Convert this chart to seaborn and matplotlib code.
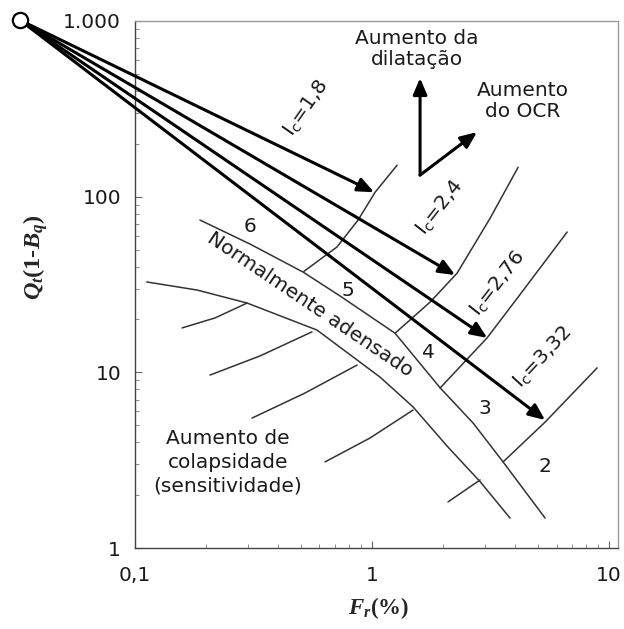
import matplotlib
matplotlib.use("Agg")
import matplotlib.pyplot as plt
import matplotlib.ticker as mticker
import numpy as np
import pandas as pd
import seaborn as sns

# ---------------- data ----------------
origin_x = 0.0327
origin_y = 1012

# thick arrows (Ic directions) end points
arrow_end_x = [1.02, 2.24, 3.06, 5.37]
arrow_end_y = [106, 35.8, 15.7, 5.35]

# normally consolidated band
nc_upper_x = [0.188, 0.306, 0.512, 0.733, 1.25, 1.94, 2.67, 3.57, 5.37]
nc_upper_y = [73.6, 53.7, 37.2, 27.2, 16.7, 8.14, 5.14, 3.09, 1.48]
nc_lower_x = [0.112, 0.183, 0.297, 0.586, 1.08, 1.49, 2.07, 2.86, 3.82]
nc_lower_y = [32.7, 29.4, 24.8, 17.4, 9.40, 6.35, 3.81, 2.38, 1.48]

# Ic boundaries above the band
ic18_x = [1.275, 1.03, 0.873, 0.711, 0.515]
ic18_y = [151, 106, 73.6, 51.7, 37.5]
ic24_x = [4.13, 3.15, 2.284, 1.757, 1.25]
ic24_y = [147, 75.5, 36.7, 25.1, 16.7]
ic276_x = [6.65, 4.13, 3.055, 1.936]
ic276_y = [62.9, 26.8, 15.7, 8.14]
ic332_x = [8.9, 5.37, 3.57]
ic332_y = [10.6, 5.21, 3.09]

# boundaries below the band
low_a_x = [0.158, 0.2176, 0.297]
low_a_y = [17.9, 20.4, 24.8]
low_b_x = [0.2073, 0.3368, 0.558]
low_b_y = [9.65, 12.4, 17.0]
low_c_x = [0.3117, 0.521, 0.8644]
low_c_y = [5.49, 7.62, 11.0]
low_d_x = [0.633, 0.981, 1.489]
low_d_y = [3.09, 4.23, 6.10]
low_e_x = [2.092, 2.855]
low_e_y = [1.83, 2.44]

# direction arrows (dilatancy / OCR)
dir_base = (1.594, 132.7)
dil_tip = (1.594, 473)
ocr_tip = (2.77, 233)

ic_labels = ["1,8", "2,4", "2,76", "3,32"]
zone_labels = ["6", "5", "4", "3", "2"]
x_ticks = [0.1, 1, 10]
x_ticklabels = ["0,1", "1", "10"]
y_ticks = [1, 10, 100, 1000]
y_ticklabels = ["1", "10", "100", "1.000"]

# ---------------- styling ----------------
sns.set_style("ticks")
plt.rcParams["font.family"] = ["DejaVu Sans"]
plt.rcParams["mathtext.fontset"] = "custom"
plt.rcParams["mathtext.rm"] = "Liberation Serif:bold"
plt.rcParams["mathtext.it"] = "Liberation Serif:italic:bold"
plt.rcParams["mathtext.bf"] = "Liberation Serif:bold"
plt.rcParams["mathtext.sf"] = "DejaVu Sans"

W, H = 624, 629
AX_L, AX_R, AX_T, AX_B = 135, 618, 21, 548
XMIN, XMAX, YMIN, YMAX = 0.1, 10.9, 1, 1000

fig = plt.figure(figsize=(W / 100, H / 100), dpi=100)
ax = fig.add_axes([AX_L / W, 1 - AX_B / H, (AX_R - AX_L) / W, (AX_B - AX_T) / H])
ax.set_xscale("log")
ax.set_yscale("log")


def P(px, py):
    """pixel position in the picture -> data coordinates (for text placement)"""
    lx = np.log10(XMIN) + (px - AX_L) / (AX_R - AX_L) * (np.log10(XMAX) - np.log10(XMIN))
    ly = np.log10(YMIN) + (AX_B - py) / (AX_B - AX_T) * (np.log10(YMAX) - np.log10(YMIN))
    return 10 ** lx, 10 ** ly


curves = {
    "nc_upper": (nc_upper_x, nc_upper_y),
    "nc_lower": (nc_lower_x, nc_lower_y),
    "ic18": (ic18_x, ic18_y),
    "ic24": (ic24_x, ic24_y),
    "ic276": (ic276_x, ic276_y),
    "ic332": (ic332_x, ic332_y),
    "la": (low_a_x, low_a_y),
    "lb": (low_b_x, low_b_y),
    "lc": (low_c_x, low_c_y),
    "ld": (low_d_x, low_d_y),
    "le": (low_e_x, low_e_y),
}
rows = []
for name, (xs, ys) in curves.items():
    for i, (xv, yv) in enumerate(zip(xs, ys)):
        rows.append({"curve": name, "x": xv, "y": yv, "order": i})
df = pd.DataFrame(rows)
sns.lineplot(data=df, x="x", y="y", units="curve", estimator=None, sort=False,
             color="#333333", lw=1.1, ax=ax, legend=False)

aprops = dict(arrowstyle="-|>,head_length=0.7,head_width=0.3", lw=2.2, color="black",
              shrinkA=0, shrinkB=0, mutation_scale=14)
for xe, ye in zip(arrow_end_x, arrow_end_y):
    ax.annotate("", xy=(xe, ye), xytext=(origin_x, origin_y), arrowprops=aprops,
                annotation_clip=False, zorder=4)
ax.plot([origin_x], [origin_y], "o", ms=11, mfc="white", mec="black", mew=1.6,
        clip_on=False, zorder=6)

for tip in (dil_tip, ocr_tip):
    ax.annotate("", xy=tip, xytext=dir_base, arrowprops=aprops, zorder=4)

fs = 14.5
tc = "#1a1a1a"
ax.text(*P(417, 49), "Aumento da\ndilatação", ha="center", va="center", fontsize=fs,
        linespacing=1.15, color=tc)
ax.text(*P(523, 101), "Aumento\ndo OCR", ha="center", va="center", fontsize=fs,
        linespacing=1.1, color=tc)
ax.text(*P(228, 462), "Aumento de\ncolapsidade\n(sensitividade)", ha="center", va="center",
        fontsize=fs, linespacing=1.3, color=tc)
ax.text(*P(310, 305), "Normalmente adensado", ha="center", va="center", fontsize=fs,
        rotation=-34, rotation_mode="anchor", color=tc)

ic_pix = [(306, 108), (439, 207), (497, 283), (542, 357)]
ic_rot = [55, 52, 52, 47]
for lab, (px, py), rot in zip(ic_labels, ic_pix, ic_rot):
    ax.text(*P(px, py), r"I$_\mathsf{c}$=" + lab, ha="center", va="center", fontsize=fs,
            rotation=rot, rotation_mode="anchor", color=tc)

zone_pix = [(250, 227), (348, 290), (428, 353), (485, 408), (545, 467)]
for lab, (px, py) in zip(zone_labels, zone_pix):
    ax.text(*P(px, py), lab, ha="center", va="center", fontsize=fs, color=tc)

# axes
ax.set_xlim(XMIN, XMAX)
ax.set_ylim(YMIN, YMAX)
ax.set_xticks(x_ticks)
ax.set_xticklabels(x_ticklabels)
ax.set_yticks(y_ticks)
ax.set_yticklabels(y_ticklabels)
ax.xaxis.set_minor_locator(mticker.LogLocator(base=10, subs=np.arange(2, 10)))
ax.yaxis.set_minor_locator(mticker.LogLocator(base=10, subs=np.arange(2, 10)))
ax.xaxis.set_minor_formatter(mticker.NullFormatter())
ax.yaxis.set_minor_formatter(mticker.NullFormatter())
ax.tick_params(which="major", direction="in", length=5, width=0.8, color="#666666",
               labelsize=fs, labelcolor=tc, pad=10)
ax.tick_params(axis="x", which="major", pad=13)
ax.tick_params(which="minor", direction="in", length=3, width=0.7, color="#888888")

for side in ("left", "bottom"):
    ax.spines[side].set_color("#444444")
    ax.spines[side].set_linewidth(1.0)
for side in ("top", "right"):
    ax.spines[side].set_visible(True)
    ax.spines[side].set_color("#9a9a9a")
    ax.spines[side].set_linewidth(1.0)

ax.set_xlabel(r"$F_r$(%)", fontsize=16.5, family="Liberation Serif", weight="bold", va="center")
ax.xaxis.set_label_coords(0.505, -0.114)
ax.set_ylabel(r"$Q_t$(1-$B_q$)", fontsize=17.5, family="Liberation Serif", weight="bold", va="center")
ax.yaxis.set_label_coords(-0.205, 0.552)

fig.savefig("out.png", dpi=100)
